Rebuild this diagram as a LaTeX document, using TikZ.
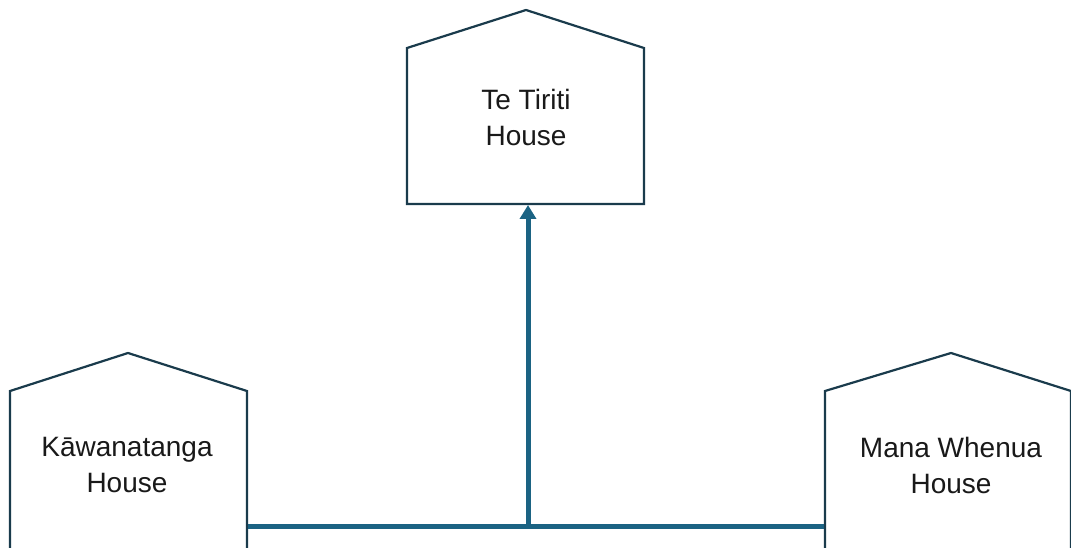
\documentclass[tikz,border=0pt]{standalone}
\usepackage{fontspec}
\setmainfont{Liberation Sans}
\usetikzlibrary{arrows.meta}
\definecolor{outline}{HTML}{1A3B4C}
\definecolor{link}{HTML}{1B6383}
\tikzset{
  house/.style={draw=outline, line width=2.2pt, fill=white, line join=miter},
  label/.style={font=\fontsize{28}{36}\selectfont, align=center, text=black!90},
  linkline/.style={draw=link, line width=5pt},
}
\begin{document}
\begin{tikzpicture}[x=1pt,y=-1pt]
  \useasboundingbox (0,0) rectangle (1071,548);
  \begin{scope}
    \clip (0,0) rectangle (1071,548);
    % the three houses: walls, gable roof and floor
    \draw[house] (407,204) -- (407,48) -- (526,10) -- (644,48) -- (644,204) -- cycle;
    \draw[house] (10,560) -- (10,391) -- (128,353) -- (247,391) -- (247,560);
    \draw[house] (825,560) -- (825,391) -- (951,353) -- (1071,391) -- (1071,560);
    \node[label] (tiriti) at (526,117) {Te Tiriti\\House};
    \node[label] (kawana) at (127,465) {Kāwanatanga\\House};
    \node[label] (mana) at (951,465) {Mana Whenua\\House};
    % connector anchors on the house walls
    \coordinate (kawanaWall) at (248,526);
    \coordinate (manaWall) at (824,526);
    \coordinate (tiritiBase) at (528,205);
    \coordinate (junction) at (528,526);
    \draw[linkline] (kawanaWall) -- (manaWall);
    \draw[linkline, -{Triangle[length=14pt,width=16pt]}] ([yshift=2.5pt]junction) -- (tiritiBase);
  \end{scope}
\end{tikzpicture}
\end{document}
